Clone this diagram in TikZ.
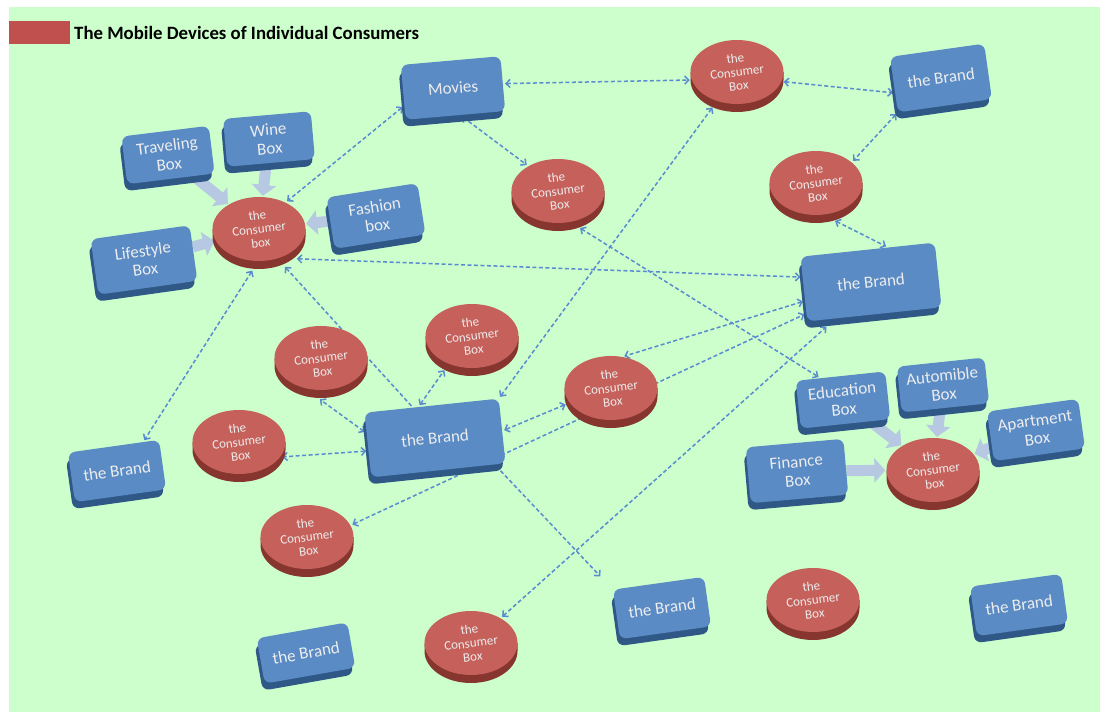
\documentclass[tikz,border=0pt]{standalone}
\usepackage{fontspec}
\setmainfont{Carlito}
\usetikzlibrary{arrows.meta,shapes.geometric,calc}
\definecolor{bggreen}{HTML}{CCFFCC}
\definecolor{titlered}{HTML}{C0504D}
\definecolor{bluetop}{HTML}{5A8BC5}
\definecolor{blueside}{HTML}{2F5887}
\definecolor{redtop}{HTML}{C5605A}
\definecolor{redside}{HTML}{86352F}
\definecolor{boxtext}{HTML}{EDEDED}
\definecolor{connblue}{HTML}{5A8AD0}
\definecolor{blockblue}{HTML}{B6C8E2}
\pgfdeclarelayer{bg}
\pgfdeclarelayer{edges}
\pgfsetlayers{bg,edges,main}
\tikzset{
  btop/.style={rectangle, rounded corners=7pt, fill=bluetop, text=boxtext, align=center,
    inner sep=2pt, font=\fontsize{17}{18.5}\selectfont},
  bside/.style={rectangle, rounded corners=7pt, fill=blueside, inner sep=0pt},
  rtop/.style={ellipse, fill=redtop, inner sep=0pt, minimum width=93pt, minimum height=64pt},
  rside/.style={fill=redside},
  ctext/.style={text=boxtext, align=center, rotate=7, inner sep=0pt,
    font=\fontsize{13}{14}\selectfont},
  connline/.style={draw=connblue, line width=1.5pt, dash pattern=on 4pt off 2.5pt,
    shorten >=2pt, shorten <=2pt},
  conn/.style={connline, {Straight Barb[length=4pt,width=8pt]}-{Straight Barb[length=4pt,width=8pt]}},
  connone/.style={connline, -{Straight Barb[length=4pt,width=8pt]}},
  blockarr/.style={draw=blockblue, line width=11pt, -{Triangle[length=11pt,width=24pt]},
    shorten >=1pt},
}
% blue extruded box: name, x, y, width, height, angle, text
\newcommand{\bbx}[7]{%
  \node[bside, minimum width=#4pt, minimum height=#5pt, rotate=#6] at (#2-2,#3+7) {};
  \node[btop, minimum width=#4pt, minimum height=#5pt, rotate=#6] (#1) at (#2,#3) {#7};
}
% red cylinder: name, x, y, text
\newcommand{\cyl}[4]{%
  \fill[rside] (#2-46.5,#3) -- ++(0,8) arc[start angle=180, end angle=360, x radius=46.5pt, y radius=32pt] -- ++(0,-8) -- cycle;
  \node[rtop, label={[ctext]center:{#4}}] (#1) at (#2,#3) {};
}
\begin{document}
\begin{tikzpicture}[x=1pt,y=-1pt]
\useasboundingbox (0,0) rectangle (1108,719);
\begin{pgfonlayer}{bg}
  \fill[white] (0,0) rectangle (1108,719);
  \fill[bggreen] (9,7) rectangle (1100,712);
\end{pgfonlayer}

% title
\node[fill=titlered, minimum width=61pt, minimum height=23pt, inner sep=0pt, anchor=north west] (legend) at (9,21) {};
\node[anchor=west, inner sep=0pt, font=\bfseries\fontsize{18.8}{20}\selectfont] (title) at (74,33) {The Mobile Devices of Individual Consumers};

% blue boxes
\bbx{movies}{453}{88}{100}{55}{5}{Movies}
\bbx{trav}{168}{155}{88}{48}{7}{Traveling\\Box}
\bbx{wine}{269}{139}{88}{48}{5}{Wine\\Box}
\bbx{life}{144}{260}{100}{56}{8}{Lifestyle\\Box}
\bbx{fash}{376}{216}{92}{52}{9}{Fashion\\box}
\bbx{brTR}{941}{78}{95}{56}{8}{the Brand}
\bbx{brR}{871}{282}{135}{65}{6}{the Brand}
\bbx{brC}{435}{438}{135}{65}{6}{the Brand}
\bbx{brL}{117}{471}{92}{50}{8}{the Brand}
\bbx{edu}{843}{400}{90}{48}{6}{Education\\Box}
\bbx{autom}{943}{385}{88}{46}{6}{Automible\\Box}
\bbx{apt}{1036}{430}{92}{50}{8}{Apartment\\Box}
\bbx{fin}{797}{471}{98}{56}{5}{Finance\\Box}
\bbx{brB}{662}{608}{92}{50}{8}{the Brand}
\bbx{brBL}{306}{653}{92}{46}{10}{the Brand}
\bbx{brBR}{1019}{605}{92}{50}{8}{the Brand}

% red cylinders
\cyl{hub1}{259}{229}{the\\Consumer\\box}
\cyl{cTC}{737}{72}{the\\Consumer\\Box}
\cyl{c3}{558}{191}{the\\Consumer\\Box}
\cyl{cR}{816}{183}{the\\Consumer\\Box}
\cyl{c4}{321}{358}{the\\Consumer\\Box}
\cyl{c5}{472}{336}{the\\Consumer\\Box}
\cyl{c7}{611}{388}{the\\Consumer\\Box}
\cyl{c8}{239}{442}{the\\Consumer\\Box}
\cyl{c9}{307}{537}{the\\Consumer\\Box}
\cyl{hub2}{933}{470}{the\\Consumer\\box}
\cyl{c11}{813}{600}{the\\Consumer\\Box}
\cyl{c12}{471}{643}{the\\Consumer\\Box}

\begin{pgfonlayer}{edges}
  % block arrows into the two hubs
  \draw[blockarr] (trav) -- (hub1);
  \draw[blockarr] (wine) -- (hub1);
  \draw[blockarr] (life) -- (hub1);
  \draw[blockarr] (fash) -- (hub1);
  \draw[blockarr] (edu) -- (hub2);
  \draw[blockarr] (autom) -- (hub2);
  \draw[blockarr] (apt) -- (hub2);
  \draw[blockarr] (fin) -- (hub2);
  % dashed connectors
  \draw[conn] (movies.east) -- (cTC.190);
  \draw[conn] (cTC.-12) -- (brTR.190);
  \draw[conn] (brTR.south west) -- (cR.30);
  \draw[conn] ($(cR.-60)+(0,7)$) -- (brR.58);
  \draw[conn] (movies.195) -- (hub1.45);
  \draw[conn] (movies.-80) -- (c3.140);
  \draw[conn] ($(hub1.-30)+(0,9)$) -- (brR.170);
  \draw[conn] ($(hub1.-100)+(0,8)$) -- (brL.40);
  \draw[connone] (brC.120) -- ($(hub1.-48)+(0,9)$);
  \draw[conn] ($(c3.-55)+(0,7)$) -- (edu.130);
  \draw[conn] ($(cTC.-130)+(0,6)$) -- (brC.north east);
  \draw[conn] (brR.190) -- (c7.70);
  \draw[conn] (c9.15) -- (brR.200);
  \draw[conn] ($(c7.195)+(0,4)$) -- (brC.east);
  \draw[conn] (brC.112) -- ($(c5.-135)+(0,6)$);
  \draw[conn] (brC.170) -- ($(c4.-95)+(0,8)$);
  \draw[conn] (brC.185) -- (c8.-20);
  \draw[connone, shorten >=18pt] (brC.-30) -- (brB.north west);
  \draw[conn] (c12.40) -- ($(brR.215)+(0,6)$);
\end{pgfonlayer}
\end{tikzpicture}
\end{document}
